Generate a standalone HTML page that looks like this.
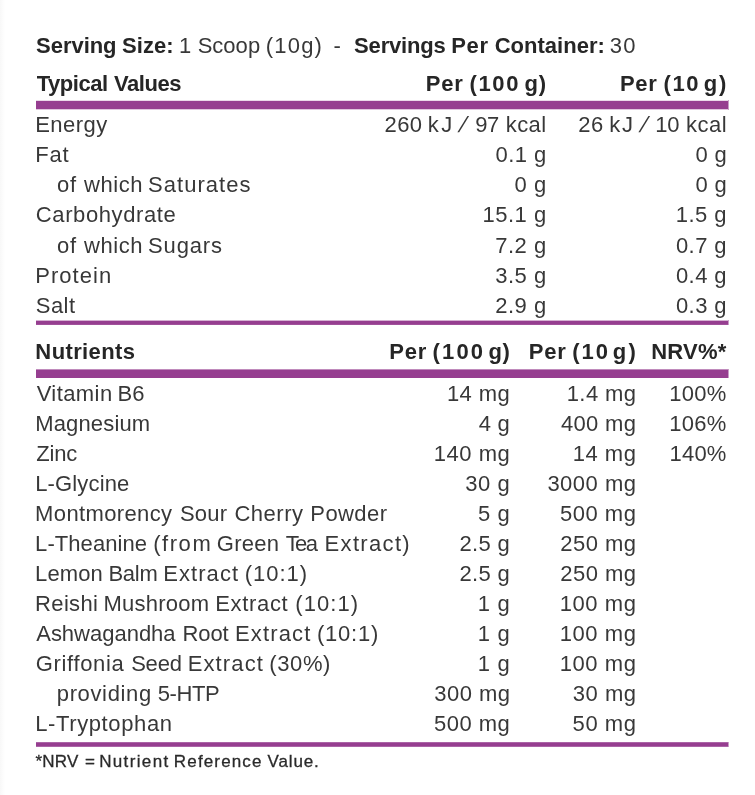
<!DOCTYPE html>
<html lang="en"><head><meta charset="utf-8"><title>Nutrition Information</title>
<style>
html,body{margin:0;padding:0;background:#fff;}
body{width:755px;height:795px;position:relative;overflow:hidden;color:#1d1d1b;}
.edge{position:absolute;left:0;top:0;width:5px;height:795px;background:linear-gradient(to right,#f8f8f8,#fff);}
.bar{position:absolute;left:36px;width:692px;background:#963e90;box-shadow:1px 0 0 rgba(150,62,144,.5);}
.t{position:absolute;white-space:pre;line-height:30px;height:30px;}
.t span{display:inline-block;}
.r{font-family:"Liberation Sans",sans-serif;font-size:22px;font-weight:400;color:#383838;}
.b{font-family:"Liberation Sans",sans-serif;font-size:22px;font-weight:700;color:#262626;}
.f{font-family:"Liberation Sans",sans-serif;font-size:17px;font-weight:400;color:#2a2a2a;-webkit-text-stroke:0.3px #2a2a2a;}
</style></head><body>
<div class="edge"></div>
<div class="bar" style="top:100px;height:10px;background:linear-gradient(to bottom,rgba(150,62,144,0.20) 0,rgba(150,62,144,0.20) 1px,#963e90 1px,#963e90 9px,rgba(150,62,144,0.30) 9px,rgba(150,62,144,0.30) 10px)"></div>
<div class="bar" style="top:320px;height:5px;background:linear-gradient(to bottom,rgba(150,62,144,0.40) 0,rgba(150,62,144,0.40) 1px,#963e90 1px,#963e90 4px,rgba(150,62,144,0.90) 4px,rgba(150,62,144,0.90) 5px)"></div>
<div class="bar" style="top:369px;height:9px;background:linear-gradient(to bottom,rgba(150,62,144,0.60) 0,rgba(150,62,144,0.60) 1px,#963e90 1px,#963e90 8px,rgba(150,62,144,1.00) 8px,rgba(150,62,144,1.00) 9px)"></div>
<div class="bar" style="top:742px;height:5px;background:linear-gradient(to bottom,rgba(150,62,144,0.80) 0,rgba(150,62,144,0.80) 1px,#963e90 1px,#963e90 4px,rgba(150,62,144,0.80) 4px,rgba(150,62,144,0.80) 5px)"></div>
<div class="row">
<div class="t b" style="left:37px;top:31px"><span style="margin-left:-0.96px;letter-spacing:-0.03px">Serving</span> <span style="margin-left:-0.72px;letter-spacing:0.09px">Size:</span></div>
<div class="t r" style="left:180.7px;top:31px"><span style="margin-left:-1.75px;letter-spacing:0px">1</span> <span style="margin-left:0.32px;letter-spacing:0.03px">Scoop</span> <span style="margin-left:-0.53px;letter-spacing:1.19px">(10g)</span></div>
<div class="t r" style="left:333.56px;top:31px;letter-spacing:0px">-</div>
<div class="t b" style="left:355px;top:31px"><span style="margin-left:-0.96px;letter-spacing:-0.16px">Servings</span> <span style="margin-left:-0.57px;letter-spacing:0.63px">Per</span> <span style="margin-left:-0.09px;letter-spacing:0.01px">Container:</span></div>
<div class="t r" style="left:609.87px;top:31px;letter-spacing:1.2px">30</div>
</div>
<div class="row">
<div class="t b" style="left:37px;top:69px"><span style="margin-left:-0.31px;letter-spacing:-0.46px">Typical</span> <span style="margin-left:0.29px;letter-spacing:-0.46px">Values</span></div>
<div class="t b" style="left:427.3px;top:69px"><span style="margin-left:-1.45px;letter-spacing:0.74px">Per</span> <span style="margin-left:-0.28px;letter-spacing:1.66px">(100</span> <span style="margin-left:-1.66px;letter-spacing:0.75px">g)</span></div>
<div class="t b" style="left:621.5px;top:69px"><span style="margin-left:-1.58px;letter-spacing:0.74px">Per</span> <span style="margin-left:-0.24px;letter-spacing:1.54px">(10</span> <span style="margin-left:-2.43px;letter-spacing:1.95px">g)</span></div>
</div>
<div class="row">
<div class="t r" style="left:35.17px;top:110px;letter-spacing:0.46px">Energy</div>
<div class="t r" style="left:385.7px;top:110px"><span style="margin-left:-1.19px;letter-spacing:0.45px">260</span> <span style="margin-left:-0.84px;letter-spacing:2.31px">kJ</span> <span style="margin-left:-0.89px;letter-spacing:0px;transform:skewX(-19deg)">/</span> <span style="margin-left:3.22px;letter-spacing:-0.39px">97</span> <span style="margin-left:0.82px;letter-spacing:0.38px">kcal</span></div>
<div class="t r" style="left:579.5px;top:110px"><span style="margin-left:-1.27px;letter-spacing:0.45px">26</span> <span style="margin-left:-0.58px;letter-spacing:1.94px">kJ</span> <span style="margin-left:0.02px;letter-spacing:0px;transform:skewX(-19deg)">/</span> <span style="margin-left:1.69px;letter-spacing:-0.1px">10</span> <span style="margin-left:0.57px;letter-spacing:0.49px">kcal</span></div>
</div>
<div class="row">
<div class="t r" style="left:35.17px;top:140px;letter-spacing:0.89px">Fat</div>
<div class="t r" style="left:495.6px;top:140px;letter-spacing:0.4px">0.1 g</div>
<div class="t r" style="left:695.55px;top:140px;letter-spacing:0.26px">0 g</div>
</div>
<div class="row">
<div class="t r" style="left:58.1px;top:170px"><span style="margin-left:-1.05px;letter-spacing:0.8px">of</span> <span style="margin-left:0.99px;letter-spacing:0.51px">which</span> <span style="margin-left:-1px;letter-spacing:1.04px">Saturates</span></div>
<div class="t r" style="left:514.6px;top:170px;letter-spacing:0.51px">0 g</div>
<div class="t r" style="left:695.55px;top:170px;letter-spacing:0.26px">0 g</div>
</div>
<div class="row">
<div class="t r" style="left:35.85px;top:200px;letter-spacing:0.6px">Carbohydrate</div>
<div class="t r" style="left:482.46px;top:200px;letter-spacing:0.51px">15.1 g</div>
<div class="t r" style="left:675.86px;top:200px;letter-spacing:0.45px">1.5 g</div>
</div>
<div class="row">
<div class="t r" style="left:58.1px;top:231px"><span style="margin-left:-1.05px;letter-spacing:0.8px">of</span> <span style="margin-left:0.99px;letter-spacing:0.51px">which</span> <span style="margin-left:-1px;letter-spacing:0.86px">Sugars</span></div>
<div class="t r" style="left:495.23px;top:231px;letter-spacing:0.5px">7.2 g</div>
<div class="t r" style="left:675.97px;top:231px;letter-spacing:0.42px">0.7 g</div>
</div>
<div class="row">
<div class="t r" style="left:35.17px;top:261px;letter-spacing:1.07px">Protein</div>
<div class="t r" style="left:495.23px;top:261px;letter-spacing:0.5px">3.5 g</div>
<div class="t r" style="left:675.97px;top:261px;letter-spacing:0.42px">0.4 g</div>
</div>
<div class="row">
<div class="t r" style="left:35.81px;top:291px;letter-spacing:0.44px">Salt</div>
<div class="t r" style="left:495.23px;top:291px;letter-spacing:0.51px">2.9 g</div>
<div class="t r" style="left:675.97px;top:291px;letter-spacing:0.42px">0.3 g</div>
</div>
<div class="row">
<div class="t b" style="left:35.37px;top:337px;letter-spacing:0.38px">Nutrients</div>
<div class="t b" style="left:390.8px;top:337px"><span style="margin-left:-1.54px;letter-spacing:0.85px">Per</span> <span style="margin-left:-0.84px;letter-spacing:2.15px">(100</span> <span style="margin-left:-2.89px;letter-spacing:0.69px">g)</span></div>
<div class="t b" style="left:530.3px;top:337px"><span style="margin-left:-1.45px;letter-spacing:0.74px">Per</span> <span style="margin-left:-0.43px;letter-spacing:1.94px">(10</span> <span style="margin-left:-3.18px;letter-spacing:2.16px">g)</span></div>
<div class="t b" style="left:651.29px;top:337px;letter-spacing:0.19px">NRV%*</div>
</div>
<div class="row">
<div class="t r" style="left:37.1px;top:379px"><span style="margin-left:-0.48px;letter-spacing:0.43px">Vitamin</span> <span style="margin-left:-1.15px;letter-spacing:-0.06px">B6</span></div>
<div class="t r" style="left:446.95px;top:379px;letter-spacing:0.41px">14 mg</div>
<div class="t r" style="left:566.73px;top:379px;letter-spacing:0.42px">1.4 mg</div>
<div class="t r" style="left:669.3px;top:379px;letter-spacing:0.29px">100%</div>
</div>
<div class="row">
<div class="t r" style="left:35.17px;top:409px;letter-spacing:0.16px">Magnesium</div>
<div class="t r" style="left:478.7px;top:409px;letter-spacing:0.21px">4 g</div>
<div class="t r" style="left:561.05px;top:409px;letter-spacing:0.3px">400 mg</div>
<div class="t r" style="left:669.3px;top:409px;letter-spacing:0.29px">106%</div>
</div>
<div class="row">
<div class="t r" style="left:36.32px;top:439px;letter-spacing:-0.19px">Zinc</div>
<div class="t r" style="left:433.82px;top:439px;letter-spacing:0.53px">140 mg</div>
<div class="t r" style="left:572.73px;top:439px;letter-spacing:0.52px">14 mg</div>
<div class="t r" style="left:669.57px;top:439px;letter-spacing:0.18px">140%</div>
</div>
<div class="row">
<div class="t r" style="left:35.17px;top:469px;letter-spacing:0.16px">L-Glycine</div>
<div class="t r" style="left:465.23px;top:469px;letter-spacing:0.57px">30 g</div>
<div class="t r" style="left:547.38px;top:469px;letter-spacing:0.49px">3000 mg</div>
</div>
<div class="row">
<div class="t r" style="left:37px;top:499px"><span style="margin-left:-1.91px;letter-spacing:0.37px">Montmorency</span> <span style="margin-left:1.33px;letter-spacing:0.22px">Sour</span> <span style="margin-left:1.04px;letter-spacing:0.52px">Cherry</span> <span style="margin-left:0.64px;letter-spacing:0.42px">Powder</span></div>
<div class="t r" style="left:478px;top:499px;letter-spacing:0.62px">5 g</div>
<div class="t r" style="left:559.98px;top:499px;letter-spacing:0.52px">500 mg</div>
</div>
<div class="row">
<div class="t r" style="left:37px;top:529px"><span style="margin-left:-1.91px;letter-spacing:0.07px">L-Theanine</span> <span style="margin-left:-0.09px;letter-spacing:1.56px">(from</span> <span style="margin-left:-1.7px;letter-spacing:0.3px">Green</span> <span style="margin-left:0.28px;letter-spacing:-1.66px">Tea</span> <span style="margin-left:2.18px;letter-spacing:1.33px">Extract)</span></div>
<div class="t r" style="left:459.51px;top:529px;letter-spacing:0.32px">2.5 g</div>
<div class="t r" style="left:560.19px;top:529px;letter-spacing:0.5px">250 mg</div>
</div>
<div class="row">
<div class="t r" style="left:37px;top:559px"><span style="margin-left:-1.91px;letter-spacing:0.1px">Lemon</span> <span style="margin-left:-0.6px;letter-spacing:-0.26px">Balm</span> <span style="margin-left:-0.29px;letter-spacing:1.04px">Extract</span> <span style="margin-left:-0.36px;letter-spacing:0.93px">(10:1)</span></div>
<div class="t r" style="left:459.51px;top:559px;letter-spacing:0.32px">2.5 g</div>
<div class="t r" style="left:560.19px;top:559px;letter-spacing:0.5px">250 mg</div>
</div>
<div class="row">
<div class="t r" style="left:37px;top:589px"><span style="margin-left:-1.91px;letter-spacing:0.33px">Reishi</span> <span style="margin-left:-0.92px;letter-spacing:0.25px">Mushroom</span> <span style="margin-left:-0.37px;letter-spacing:0.69px">Extract</span> <span style="margin-left:0.79px;letter-spacing:1.04px">(10:1)</span></div>
<div class="t r" style="left:477.76px;top:589px;letter-spacing:0.75px">1 g</div>
<div class="t r" style="left:559.76px;top:589px;letter-spacing:0.57px">100 mg</div>
</div>
<div class="row">
<div class="t r" style="left:36.7px;top:619px"><span style="margin-left:-0.47px;letter-spacing:-0.01px">Ashwagandha</span> <span style="margin-left:0.87px;letter-spacing:-0.12px">Root</span> <span style="margin-left:0.34px;letter-spacing:1.13px">Extract</span> <span style="margin-left:-0.59px;letter-spacing:0.77px">(10:1)</span></div>
<div class="t r" style="left:477.76px;top:619px;letter-spacing:0.75px">1 g</div>
<div class="t r" style="left:559.76px;top:619px;letter-spacing:0.57px">100 mg</div>
</div>
<div class="row">
<div class="t r" style="left:37px;top:649px"><span style="margin-left:-1.29px;letter-spacing:0.66px">Griffonia</span> <span style="margin-left:0.61px;letter-spacing:-0.21px">Seed</span> <span style="margin-left:-0.18px;letter-spacing:1.13px">Extract</span> <span style="margin-left:-0.79px;letter-spacing:0.6px">(30%)</span></div>
<div class="t r" style="left:477.76px;top:649px;letter-spacing:0.75px">1 g</div>
<div class="t r" style="left:559.76px;top:649px;letter-spacing:0.57px">100 mg</div>
</div>
<div class="row">
<div class="t r" style="left:58.3px;top:679px"><span style="margin-left:-1.55px;letter-spacing:0.64px">providing</span> <span style="margin-left:-0.21px;letter-spacing:-0.38px">5-HTP</span></div>
<div class="t r" style="left:434.3px;top:679px;letter-spacing:0.44px">300 mg</div>
<div class="t r" style="left:572.76px;top:679px;letter-spacing:0.52px">30 mg</div>
</div>
<div class="row">
<div class="t r" style="left:35.17px;top:709px;letter-spacing:0.62px">L-Tryptophan</div>
<div class="t r" style="left:434.09px;top:709px;letter-spacing:0.48px">500 mg</div>
<div class="t r" style="left:572.6px;top:709px;letter-spacing:0.56px">50 mg</div>
</div>
<div class="row">
<div class="t f" style="left:35.9px;top:747px"><span style="margin-left:-0.37px;letter-spacing:0.21px">*NRV</span> <span style="margin-left:1.81px;letter-spacing:0px">=</span> <span style="margin-left:-0.66px;letter-spacing:1.36px">Nutrient</span> <span style="margin-left:-0.43px;letter-spacing:1.15px">Reference</span> <span style="margin-left:0.2px;letter-spacing:0.86px">Value.</span></div>
</div>
</body></html>
